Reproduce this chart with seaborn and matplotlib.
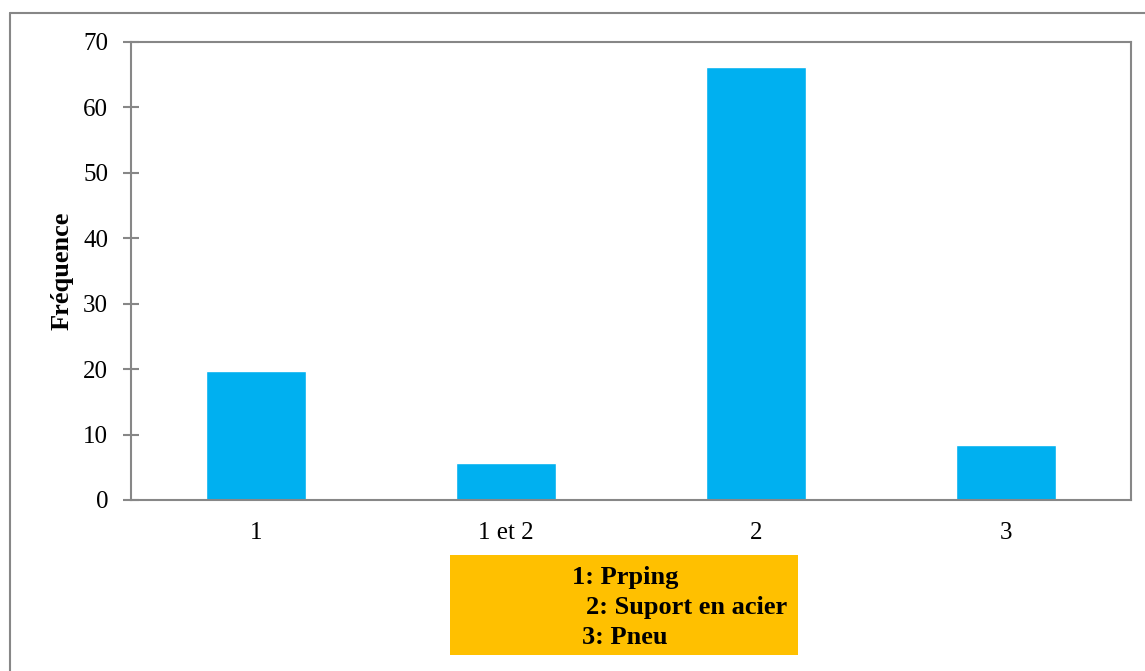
import matplotlib
matplotlib.use('Agg')
import matplotlib.pyplot as plt
import seaborn as sns
import pandas as pd
from matplotlib.patches import Rectangle
from matplotlib.lines import Line2D

# Data
categories = ['1', '1 et 2', '2', '3']
frequences = [19.7, 5.6, 66.2, 8.4]
legende = ['1: Prping', '2: Suport en acier', '3: Pneu']

df = pd.DataFrame({'cat': categories, 'freq': frequences})

sns.set_style('white')
plt.rcParams['font.family'] = ['Liberation Serif', 'DejaVu Serif']
plt.rcParams['text.color'] = 'black'
plt.rcParams['axes.labelcolor'] = 'black'
plt.rcParams['xtick.labelcolor'] = 'black'
plt.rcParams['ytick.labelcolor'] = 'black'

W, H = 1145, 671
fig = plt.figure(figsize=(W / 100, H / 100), dpi=100)
ax = fig.add_axes([131 / W, 1 - 500 / H, 1000 / W, 458 / H])

sns.barplot(x='cat', y='freq', data=df, color='#00B0F0', width=0.4,
            saturation=1, ax=ax)

grey = '#878787'
ax.set_ylim(0, 70)
ax.set_yticks(range(0, 71, 10))
ax.set_xlim(-0.5, 3.5)
for s in ax.spines.values():
    s.set_color(grey)
    s.set_linewidth(1.5)
ax.tick_params(axis='y', direction='inout', length=11, width=1.5, color=grey,
               labelsize=18, pad=11, left=True, labelcolor='black')
ax.tick_params(axis='x', length=0, labelsize=18, pad=16, labelcolor='black')
ax.set_xlabel('')
ax.set_ylabel('Fréquence', fontsize=19, fontweight='bold', labelpad=7,
              color='black')

# outer frame (left and top only visible)
fig.add_artist(Line2D([9.5 / W, 9.5 / W], [0, 1 - 13 / H], color=grey, lw=1.5,
                      transform=fig.transFigure))
fig.add_artist(Line2D([9.5 / W, 1], [1 - 13 / H, 1 - 13 / H], color=grey, lw=1.5,
                      transform=fig.transFigure))

# orange legend box
fig.patches.append(Rectangle((450 / W, 1 - 655 / H), 348 / W, 100 / H,
                             transform=fig.transFigure, facecolor='#FFC000',
                             edgecolor='none'))
starts = [572, 586, 582]
bases = [584, 614, 644]
for txt, x0, y0 in zip(legende, starts, bases):
    fig.text(x0 / W, 1 - y0 / H, txt, fontsize=19, fontweight='bold',
             ha='left', va='baseline', color='black')

fig.savefig('out.png', dpi=100)
